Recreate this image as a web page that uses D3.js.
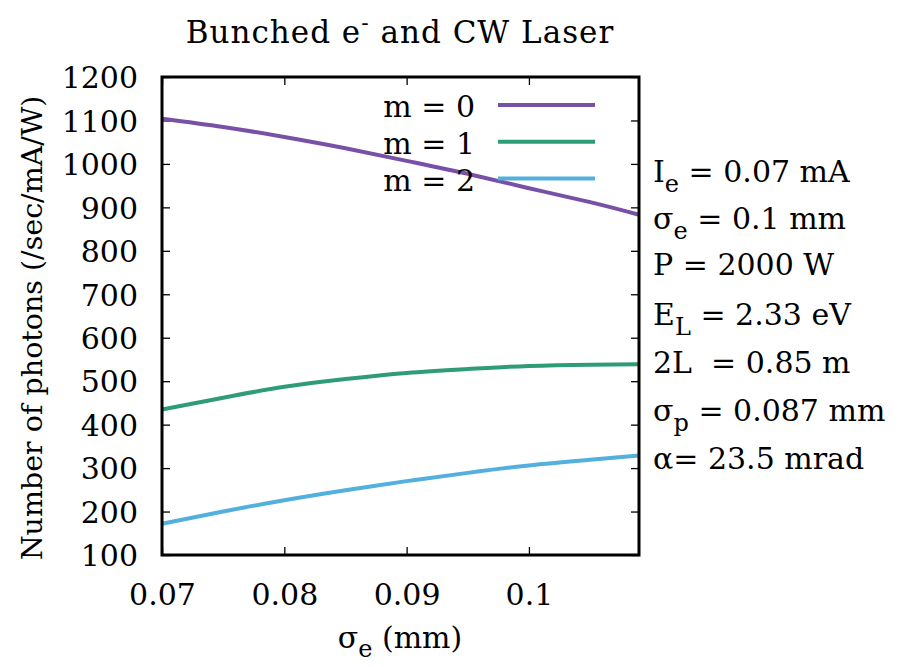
<!DOCTYPE html>
<html>
<head>
<meta charset="utf-8">
<script src="https://cdn.jsdelivr.net/npm/d3@7"></script>
<style>
  body { margin: 0; background: white; }
  text { font-family: "DejaVu Serif", serif; fill: black; }
</style>
</head>
<body>
<div id="vis"></div>
<script>
// bunched e- and CW laser: photon number vs sigma_e

let sigma = [0.07, 0.075, 0.08, 0.085, 0.09, 0.095, 0.1, 0.105, 0.109];
let m0 = [1104, 1085, 1062, 1036, 1007, 977, 944, 912, 883];
let m1 = [435, 462, 487, 505, 519, 528, 535, 538, 539];
let m2 = [172, 200, 226, 249, 270, 289, 306, 319, 329];

let seriesNames = ['m = 0', 'm = 1', 'm = 2'];
let seriesColors = ['#7850a6', '#2e9c74', '#52afde'];
let xTicks = [0.07, 0.08, 0.09, 0.1];
let yTicks = [100, 200, 300, 400, 500, 600, 700, 800, 900, 1000, 1100, 1200];

let margin = { top: 77, left: 162, right: 269, bottom: 112 },
  width = 908 - margin.left - margin.right,
  height = 667 - margin.top - margin.bottom;

let svg = d3.select('#vis')
  .append('svg')
  .attr('width', 908)
  .attr('height', 667)
  .style('background-color', 'white');

let g = svg.append('g')
  .attr('transform', 'translate(' + margin.left + ',' + margin.top + ')');

let x = d3.scaleLinear().domain([0.07, 0.109]).range([0, width]);
let y = d3.scaleLinear().domain([100, 1200]).range([height, 0]);

// axes, gnuplot style: ticks inward on all four sides
let xAxis = g.append('g')
  .attr('transform', 'translate(0,' + height + ')')
  .call(d3.axisBottom(x).tickValues(xTicks).tickFormat(d3.format('')).tickSizeInner(-8).tickSizeOuter(0).tickPadding(29));
let yAxis = g.append('g')
  .call(d3.axisLeft(y).tickValues(yTicks).tickFormat(d3.format('d')).tickSizeInner(-8).tickSizeOuter(0).tickPadding(24));
let xTop = g.append('g')
  .call(d3.axisTop(x).tickValues(xTicks).tickFormat('').tickSizeInner(-8).tickSizeOuter(0));
let yRight = g.append('g')
  .attr('transform', 'translate(' + width + ',0)')
  .call(d3.axisRight(y).tickValues(yTicks).tickFormat('').tickSizeInner(-8).tickSizeOuter(0));

[xAxis, yAxis, xTop, yRight].forEach(function(a) {
  a.select('.domain').remove();
  a.selectAll('line').attr('stroke', 'black').attr('stroke-width', 1.3);
  a.selectAll('text').style('font-size', '30px').style('font-family', '"DejaVu Serif", serif').attr('fill', 'black');
});
yAxis.selectAll('text').attr('dy', '0.36em');

// curves
let line = d3.line()
  .x(function(d) { return x(d[0]); })
  .y(function(d) { return y(d[1]); })
  .curve(d3.curveNatural);

[m0, m1, m2].forEach(function(vals, i) {
  g.append('path')
    .datum(sigma.map(function(s, j) { return [s, vals[j]]; }))
    .attr('fill', 'none')
    .attr('stroke', seriesColors[i])
    .attr('stroke-width', 4)
    .attr('d', line);
});

// border
g.append('rect')
  .attr('x', 0).attr('y', 0)
  .attr('width', width).attr('height', height)
  .attr('fill', 'none')
  .attr('stroke', 'black')
  .attr('stroke-width', 3);

// legend
seriesNames.forEach(function(name, i) {
  let ly = 105 + i * 36.8;
  svg.append('text')
    .attr('x', 475).attr('y', ly + 12)
    .attr('text-anchor', 'end')
    .style('font-size', '30px')
    .text(name);
  svg.append('line')
    .attr('x1', 498).attr('x2', 595)
    .attr('y1', ly).attr('y2', ly)
    .attr('stroke', seriesColors[i])
    .attr('stroke-width', 4);
});

// title
let title = svg.append('text')
  .attr('x', 400).attr('y', 43)
  .attr('text-anchor', 'middle')
  .style('font-size', '31px')
  .style('letter-spacing', '1px');
title.append('tspan').text('Bunched e');
title.append('tspan').attr('dy', -13).style('font-size', '22px').text('-');
title.append('tspan').attr('dy', 13).text(' and CW Laser');

// axis labels
let xl = svg.append('text')
  .attr('x', 400).attr('y', 648)
  .attr('text-anchor', 'middle')
  .style('font-size', '30px');
xl.append('tspan').text('σ');
xl.append('tspan').attr('dy', 9).style('font-size', '24px').text('e');
xl.append('tspan').attr('dy', -9).text(' (mm)');

svg.append('text')
  .attr('transform', 'translate(42,328) rotate(-90)')
  .attr('text-anchor', 'middle')
  .style('font-size', '28.5px')
  .text('Number of photons (/sec/mA/W)');

// parameter labels on the right
let params = [
  { main: 'I', sub: 'e', rest: ' = 0.07 mA', y: 182 },
  { main: 'σ', sub: 'e', rest: ' = 0.1 mm', y: 229 },
  { main: 'P = 2000 W', sub: '', rest: '', y: 275 },
  { main: 'E', sub: 'L', rest: ' = 2.33 eV', y: 325 },
  { main: '2L  = 0.85 m', sub: '', rest: '', y: 373 },
  { main: 'σ', sub: 'p', rest: ' = 0.087 mm', y: 421 },
  { main: 'α= 23.5 mrad', sub: '', rest: '', y: 469 }
];
params.forEach(function(p) {
  let t = svg.append('text')
    .attr('x', 653).attr('y', p.y)
    .style('font-size', '30px')
    .attr('xml:space', 'preserve');
  t.append('tspan').text(p.main);
  if (p.sub) {
    t.append('tspan').attr('dy', 10).style('font-size', '24px').text(p.sub);
    t.append('tspan').attr('dy', -10).text(p.rest);
  }
});
</script>
</body>
</html>
